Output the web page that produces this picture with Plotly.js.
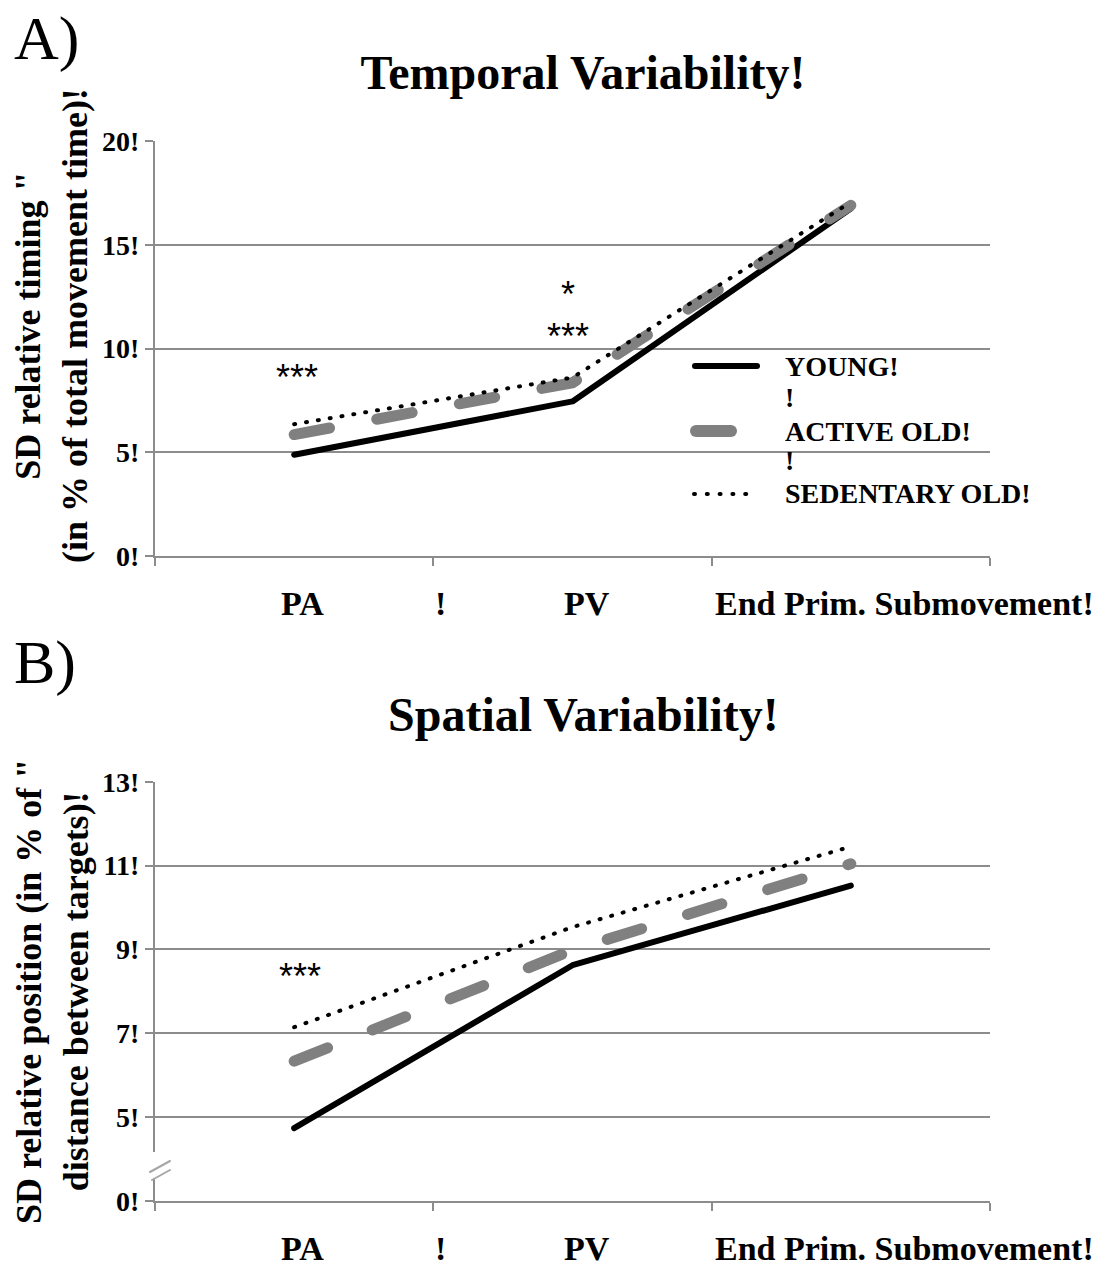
<!DOCTYPE html>
<html>
<head>
<meta charset="utf-8">
<script src="https://cdn.plot.ly/plotly-3.0.1.min.js"></script>
<style>
html,body{margin:0;padding:0;background:#fff;}
#chart{width:1096px;height:1268px;}
.scatterlayer .js-line{stroke-linecap:round;stroke-linejoin:round;}
.shapelayer path{stroke-linecap:round;}
</style>
</head>
<body>
<div id="chart"></div>
<script>
// ---------- DATA ----------
const categories = ["PA", "PV", "End Prim. Submovement!"];
const seriesNames = ["YOUNG!", "ACTIVE OLD!", "SEDENTARY OLD!"];

// Panel A: Temporal variability (SD relative timing, % of total movement time)
const temporalYoung     = [4.88, 7.45, 16.75];
const temporalActive    = [5.85, 8.35, 16.9];
const temporalSedentary = [6.35, 8.6, 17.05];

// Panel B: Spatial variability (SD relative position, % of distance between targets)
// axis is broken: value scale runs 5..13, "0" is drawn one step below 5
const spatialYoung     = [4.73, 8.62, 10.52];
const spatialActive    = [6.33, 8.98, 11.04];
const spatialSedentary = [7.14, 9.53, 11.45];

const temporalTickVals = [0, 5, 10, 15, 20];
const temporalTickText = ["0!", "5!", "10!", "15!", "20!"];
const spatialTickVals  = [3, 5, 7, 9, 11, 13];
const spatialTickText  = ["0!", "5!", "7!", "9!", "11!", "13!"];

const xLabelTexts = ["PA", "!", "PV", "End Prim. Submovement!"];
const yTitleA = "SD relative timing \"<br>(in % of total movement time)!";
const yTitleB = "SD relative position (in % of \"<br>distance between targets)!";

const sigTextA = ["***", "*", "***"];
const sigCatA  = ["PA", "PV", "PV"];
const sigYA    = [8.84, 12.82, 10.8];
const sigTextB = ["***"];
const sigCatB  = ["PA"];
const sigYB    = [8.47];

// ---------- LAYOUT HELPERS ----------
const W = 1096, H = 1268;
const X = p => p / W;
const Y = p => 1 - p / H;
const SERIF = "Liberation Serif, Times New Roman, serif";
const SANS = "Liberation Sans, Arial, sans-serif";
const GRID = "#8c8c8c";
const GRAYLINE = "#808080";

const styles = [
  {color: "#000000", width: 6, dash: "solid"},
  {color: GRAYLINE, width: 11, dash: "36px,48px"},
  {color: "#000000", width: 4, dash: "1px,11px"}
];

function traces(vals, xa, ya) {
  return vals.map((v, i) => ({
    type: "scatter", mode: "lines",
    x: categories, y: v, name: seriesNames[i],
    xaxis: xa, yaxis: ya, showlegend: false,
    line: {color: styles[i].color, width: styles[i].width, dash: styles[i].dash},
    hoverinfo: "x+y+name"
  }));
}

const data = [
  ...traces([temporalYoung, temporalActive, temporalSedentary], "x", "y"),
  ...traces([spatialYoung, spatialActive, spatialSedentary], "x2", "y2")
];

const xDomain = [X(155), X(990)];

function xaxisDef(anchor) {
  return {
    domain: xDomain, anchor: anchor, type: "category",
    categoryorder: "array", categoryarray: categories,
    range: [-0.5, 2.5], tickson: "boundaries",
    ticks: "outside", ticklen: 8, tickwidth: 2, tickcolor: GRID,
    showline: true, linecolor: GRID, linewidth: 2,
    showgrid: false, showticklabels: false, zeroline: false, fixedrange: true
  };
}
function yaxisDef(anchor, domain, range, tv, tt) {
  return {
    domain: domain, anchor: anchor, range: range,
    tickmode: "array", tickvals: tv, ticktext: tt,
    ticks: "outside", ticklen: 8, tickwidth: 2, tickcolor: GRID,
    showline: true, linecolor: GRID, linewidth: 2,
    showgrid: true, gridcolor: GRID, gridwidth: 2, zeroline: false,
    tickfont: {family: SERIF, size: 28, color: "#000", weight: "bold"},
    fixedrange: true
  };
}

const annotations = [];
function addText(text, x, y, size, opts) {
  annotations.push(Object.assign({
    text: text, x: x, y: y, xref: "paper", yref: "paper",
    showarrow: false, xanchor: "center", yanchor: "middle",
    font: {family: SERIF, size: size, color: "#000"}
  }, opts || {}));
}

// Panel letters
addText("A)", X(12), Y(38), 62, {xanchor: "left"});
addText("B)", X(12), Y(662), 62, {xanchor: "left"});
// Panel B title
addText("<b>Spatial Variability!</b>", X(583), Y(714), 48);

// Y axis titles (rotated)
addText("<b>" + yTitleA + "</b>", X(52), Y(326), 36, {textangle: -90});
addText("<b>" + yTitleB + "</b>", X(52), Y(992), 36, {textangle: -90});

// X category labels
const xLabelPos = [302, 440, 587, 713];
const xLabelAnchor = ["center", "center", "center", "left"];
xLabelTexts.forEach((t, i) => {
  addText("<b>" + t + "</b>", X(xLabelPos[i]), Y(604), 34, {xanchor: xLabelAnchor[i]});
  addText("<b>" + t + "</b>", X(xLabelPos[i]), 0, 34, {xanchor: xLabelAnchor[i], yanchor: "bottom", yshift: -1});
});

// Significance markers
sigTextA.forEach((t, i) => annotations.push({
  text: t, x: sigCatA[i], y: sigYA[i], xref: "x", yref: "y", showarrow: false,
  xanchor: "center", yanchor: "middle", xshift: i === 0 ? 3 : -5, yshift: -5,
  font: {family: SANS, size: 36, color: "#000"}
}));
sigTextB.forEach((t, i) => annotations.push({
  text: t, x: sigCatB[i], y: sigYB[i], xref: "x2", yref: "y2", showarrow: false,
  xanchor: "center", yanchor: "middle", xshift: 6, yshift: -5,
  font: {family: SANS, size: 36, color: "#000"}
}));

// Legend (inside panel A)
const legendRows = [366, 431, 493];
const legendBangRows = [397, 461];
seriesNames.forEach((n, i) => addText("<b>" + n + "</b>", X(783), Y(legendRows[i]), 28, {xanchor: "left"}));
legendBangRows.forEach(r => addText("<b>!</b>", X(783), Y(r), 28, {xanchor: "left"}));

const shapes = [
  {type: "line", xref: "paper", yref: "paper", x0: X(695), x1: X(757), y0: Y(366), y1: Y(366),
   line: {color: styles[0].color, width: 6}},
  {type: "line", xref: "paper", yref: "paper", x0: X(696), x1: X(731), y0: Y(431), y1: Y(431),
   line: {color: styles[1].color, width: 12}},
  {type: "line", xref: "paper", yref: "paper", x0: X(694), x1: X(758), y0: Y(494), y1: Y(494),
   line: {color: styles[2].color, width: 4, dash: "1px,11.8px"}},
  // axis break on panel B
  {type: "rect", xref: "paper", yref: "paper", layer: "above", x0: X(150), x1: X(162), y0: Y(1178), y1: Y(1152),
   fillcolor: "#ffffff", line: {width: 0}},
  {type: "line", xref: "paper", yref: "paper", layer: "above", x0: X(150), x1: X(170), y0: Y(1172), y1: Y(1161),
   line: {color: "#a6a6a6", width: 2}},
  {type: "line", xref: "paper", yref: "paper", layer: "above", x0: X(152), x1: X(170), y0: Y(1180), y1: Y(1170),
   line: {color: "#a6a6a6", width: 2}}
];

const layout = {
  width: W, height: H,
  margin: {l: 0, r: 0, t: 0, b: 0, pad: 0},
  paper_bgcolor: "#ffffff", plot_bgcolor: "#ffffff",
  showlegend: false,
  title: {text: "<b>Temporal Variability!</b>", x: X(583), xanchor: "center", y: Y(72), yanchor: "middle",
          font: {family: SERIF, size: 48, color: "#000"}},
  xaxis: xaxisDef("y"),
  yaxis: yaxisDef("x", [Y(556), Y(141)], [0, 20], temporalTickVals, temporalTickText),
  xaxis2: xaxisDef("y2"),
  yaxis2: yaxisDef("x2", [Y(1200.7), Y(781.7)], [3, 13], spatialTickVals, spatialTickText),
  annotations: annotations,
  shapes: shapes
};

Plotly.newPlot("chart", data, layout, {staticPlot: true, displayModeBar: false});
</script>
</body>
</html>
